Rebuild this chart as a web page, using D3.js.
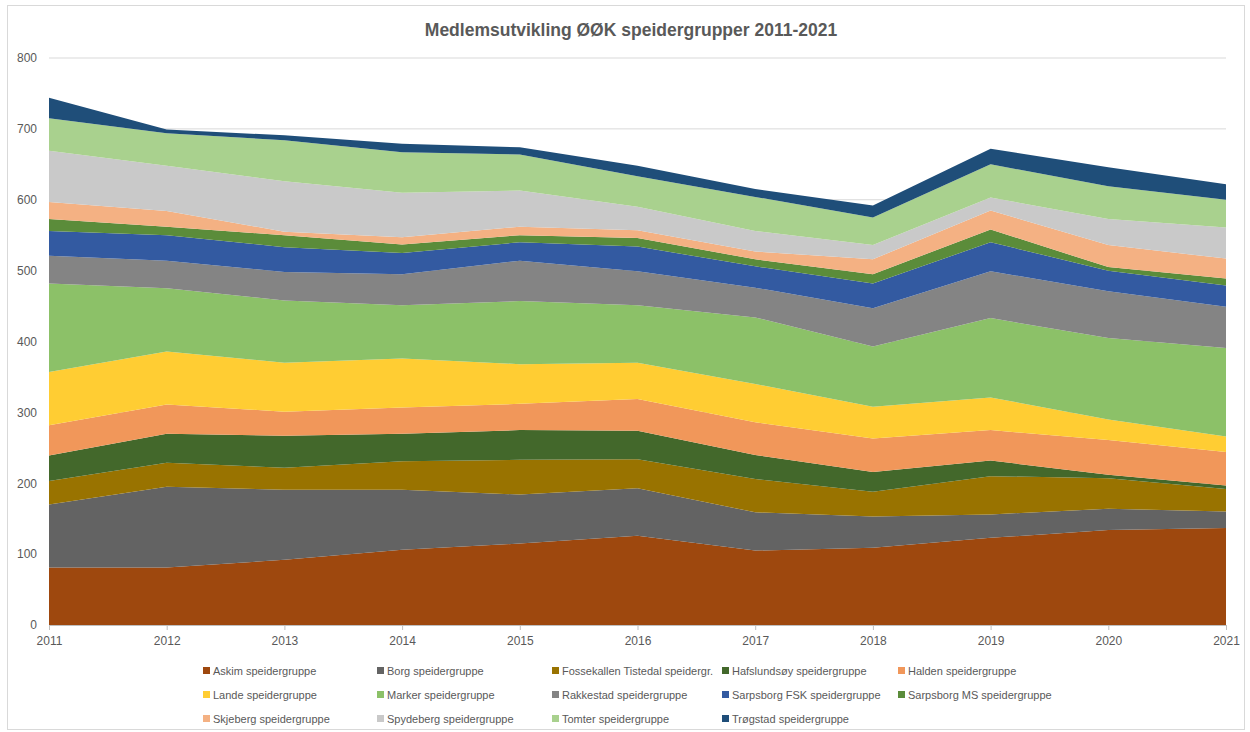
<!DOCTYPE html>
<html lang="no">
  <head>
    <meta charset="UTF-8" />
    <title>Medlemsutvikling ØØK speidergrupper 2011-2021</title>
    <script src="https://d3js.org/d3.v7.min.js"></script>
    <style>
      html,
      body {
        margin: 0;
        padding: 0;
        background-color: #fff;
        font-family: "Liberation Sans", Arial, sans-serif;
      }
      .tick text {
        fill: #595959;
        font-size: 12px;
      }
      .legend text {
        fill: #595959;
        font-size: 11px;
      }
    </style>
  </head>
  <body>
    <svg id="chart"></svg>
    <script>
      // Years on the x axis
      const years = [2011, 2012, 2013, 2014, 2015, 2016, 2017, 2018, 2019, 2020, 2021];

      // Members per group (stack order bottom -> top)
      const askim = [81, 81, 92, 106, 115, 126, 105, 109, 123, 134, 137];
      const borg = [89, 114, 99, 85, 69, 67, 54, 44, 33, 30, 23];
      const fossekallen = [33, 34, 31, 40, 49, 41, 47, 35, 54, 43, 32];
      const hafslundsoy = [36, 41, 45, 39, 42, 40, 34, 28, 22, 5, 5];
      const halden = [43, 41, 34, 37, 37, 45, 46, 47, 43, 49, 47];
      const lande = [75, 75, 69, 69, 56, 51, 54, 45, 46, 29, 22];
      const marker = [125, 89, 88, 75, 89, 81, 94, 85, 112, 115, 125];
      const rakkestad = [39, 39, 40, 44, 57, 48, 42, 54, 66, 66, 58];
      const sarpsborgFsk = [35, 36, 35, 30, 26, 35, 30, 35, 41, 29, 30];
      const sarpsborgMs = [17, 12, 17, 12, 10, 12, 10, 13, 18, 5, 10];
      const skjeberg = [24, 22, 5, 10, 12, 11, 11, 21, 27, 31, 28];
      const spydeberg = [72, 64, 71, 63, 51, 33, 29, 20, 18, 37, 44];
      const tomter = [46, 46, 58, 57, 51, 43, 48, 39, 47, 46, 39];
      const trogstad = [29, 5, 7, 12, 10, 15, 11, 17, 22, 27, 22];

      const groupNames = [
        "Askim speidergruppe",
        "Borg speidergruppe",
        "Fossekallen Tistedal speidergr.",
        "Hafslundsøy speidergruppe",
        "Halden speidergruppe",
        "Lande speidergruppe",
        "Marker speidergruppe",
        "Rakkestad speidergruppe",
        "Sarpsborg FSK speidergruppe",
        "Sarpsborg MS speidergruppe",
        "Skjeberg speidergruppe",
        "Spydeberg speidergruppe",
        "Tomter speidergruppe",
        "Trøgstad speidergruppe",
      ];
      const groupValues = [
        askim, borg, fossekallen, hafslundsoy, halden, lande, marker,
        rakkestad, sarpsborgFsk, sarpsborgMs, skjeberg, spydeberg, tomter, trogstad,
      ];
      const groupColors = [
        "#9e480e", "#636363", "#997300", "#43682b", "#f1975a", "#ffcd33", "#8cc168",
        "#848484", "#335aa1", "#5b8c3a", "#f4b183", "#c9c9c9", "#a9d18e", "#1f4e79",
      ];
      const yTicks = [0, 100, 200, 300, 400, 500, 600, 700, 800];

      const width = 1250;
      const height = 732;
      const margin = { top: 58, right: 24, bottom: 107, left: 49 };

      const svg = d3.select("#chart").attr("width", width).attr("height", height);

      // Chart frame
      svg
        .append("rect")
        .attr("x", 7.5)
        .attr("y", 5.5)
        .attr("width", 1237)
        .attr("height", 724)
        .attr("fill", "#fff")
        .attr("stroke", "#d9d9d9");

      // Title
      svg
        .append("text")
        .attr("x", 631)
        .attr("y", 36)
        .attr("text-anchor", "middle")
        .attr("font-size", "17.5px")
        .attr("font-weight", "bold")
        .attr("fill", "#595959")
        .text("Medlemsutvikling ØØK speidergrupper 2011-2021");

      const x = d3
        .scaleLinear()
        .domain(d3.extent(years))
        .range([margin.left, width - margin.right]);
      const y = d3
        .scaleLinear()
        .domain([0, 800])
        .range([height - margin.bottom, margin.top]);

      // Gridlines
      svg
        .append("g")
        .selectAll("line")
        .data(yTicks.slice(1))
        .join("line")
        .attr("x1", margin.left)
        .attr("x2", width - margin.right)
        .attr("y1", (d) => y(d))
        .attr("y2", (d) => y(d))
        .attr("stroke", "#d9d9d9");

      // Build table for d3.stack
      const table = years.map((yr, i) => {
        const row = { year: yr };
        groupNames.forEach((n, k) => (row[n] = groupValues[k][i]));
        return row;
      });
      const series = d3.stack().keys(groupNames)(table);

      const area = d3
        .area()
        .x((d) => x(d.data.year))
        .y0((d) => y(d[0]))
        .y1((d) => y(d[1]));

      svg
        .append("g")
        .selectAll("path")
        .data(series)
        .join("path")
        .attr("fill", (d, i) => groupColors[i])
        .attr("d", area);

      // Axes
      const xAxis = svg
        .append("g")
        .attr("transform", `translate(0,${y(0)})`)
        .call(d3.axisBottom(x).tickValues(years).tickFormat(d3.format("d")).tickSize(5).tickPadding(6));
      xAxis.select(".domain").attr("stroke", "#bfbfbf");
      xAxis.selectAll(".tick line").attr("stroke", "#bfbfbf");

      const yAxis = svg
        .append("g")
        .attr("transform", `translate(${margin.left},0)`)
        .call(d3.axisLeft(y).tickValues(yTicks).tickSize(0).tickPadding(12));
      yAxis.select(".domain").remove();

      // Legend
      const legendCols = [203, 377, 552, 722, 898];
      const legendRows = [671, 695, 719];
      const legend = svg
        .append("g")
        .attr("class", "legend")
        .selectAll("g")
        .data(groupNames)
        .join("g")
        .attr("transform", (d, i) => `translate(${legendCols[i % 5]},${legendRows[Math.floor(i / 5)]})`);
      legend
        .append("rect")
        .attr("x", 0)
        .attr("y", -4)
        .attr("width", 7)
        .attr("height", 7)
        .attr("fill", (d, i) => groupColors[i]);
      legend
        .append("text")
        .attr("x", 10)
        .attr("y", 4)
        .text((d) => d);
    </script>
  </body>
</html>
